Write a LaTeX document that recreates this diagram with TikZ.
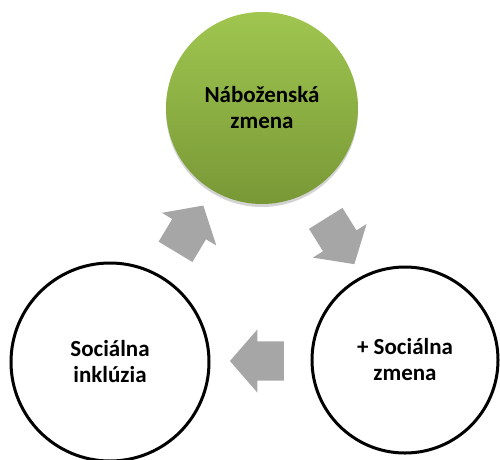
\documentclass[tikz,border=0pt]{standalone}
\usepackage{fontspec}
\setmainfont{Carlito}
\usetikzlibrary{calc,shapes.arrows,shadows}
\definecolor{greentop}{RGB}{160,198,80}
\definecolor{greenbot}{RGB}{120,152,54}
\definecolor{arrowgray}{RGB}{166,166,166}
\tikzset{
  phase/.style={circle,inner sep=0pt,align=center,
    font=\bfseries\fontsize{23}{26}\selectfont},
  openphase/.style={phase,draw=black,line width=3pt,fill=white},
  greenphase/.style={phase,top color=greentop,bottom color=greenbot,
    drop shadow={opacity=0.35,shadow xshift=0pt,shadow yshift=-3pt}},
  turn/.style={single arrow,fill=arrowgray,inner xsep=0pt,inner ysep=19.5pt,
    minimum height=54pt,single arrow head extend=12pt,
    single arrow tip angle=98}
}
\begin{document}
\begin{tikzpicture}[x=1pt,y=-1pt]
  \useasboundingbox (0,0) rectangle (500,459);
  % three phases of the cycle
  \node[greenphase,minimum size=192pt] (nab) at (262,108) {Náboženská\\zmena};
  \node[openphase,minimum size=198pt] (inkl) at (110,362) {Sociálna\\inklúzia};
  \node[openphase,minimum size=186pt] (soc) at (405,360) {+ Sociálna\\zmena};
  % block arrows between them
  \node[turn,rotate=59] (a1) at ($(inkl)!0.5!(nab)+(-1,1)$) {};
  \node[turn,rotate=-58] (a2) at ($(nab)!0.5!(soc)+(2,0)$) {};
  \node[turn,rotate=180] (a3) at ($(soc)!0.5!(inkl)+(8,0)$) {};
\end{tikzpicture}
\end{document}
